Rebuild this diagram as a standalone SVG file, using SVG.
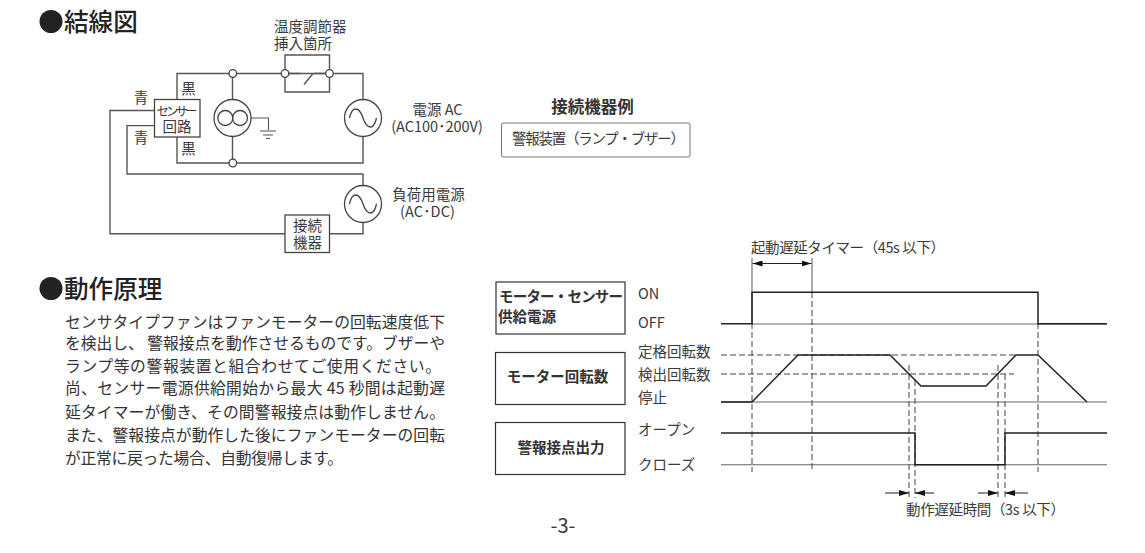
<svg xmlns="http://www.w3.org/2000/svg" width="1145" height="553" viewBox="0 0 1145 553">
<style>
text{font-family:"Noto Sans CJK JP","Noto Sans",sans-serif;fill:#3a3a3a;font-size:14.5px}
.h{font-size:24.600px;font-weight:500;fill:#222}
.b{font-size:15.800px;fill:#333}
.m{text-anchor:middle}
.s{font-weight:700;font-size:14.500px;fill:#333}
.w{fill:none;stroke:#555;stroke-width:1.4}
.n{fill:#fff;stroke:#444;stroke-width:1.3}
.t{fill:none;stroke:#222;stroke-width:1.5}
.g{fill:none;stroke:#666;stroke-width:1.1}
.d{fill:none;stroke:#444;stroke-width:1;stroke-dasharray:6 3}
.a{fill:none;stroke:#222;stroke-width:1;marker-end:url(#ah)}
</style>
<defs><marker id="ah" markerUnits="userSpaceOnUse" markerWidth="11" markerHeight="6" refX="10" refY="3" orient="auto"><path d="M0 0L10 3L0 6Z" fill="#111"/></marker></defs>
<rect width="1145" height="553" fill="#fff"/>
<g id="titles">
<circle cx="51" cy="21.500" r="11.500" fill="#222"/><text class="h" x="64" y="31">結線図</text>
<circle cx="51" cy="288.500" r="11.500" fill="#222"/><text class="h" x="64" y="298">動作原理</text>
</g>
<g id="connectors">
<path class="w" d="M177 99.500V73.500H363V99.500M363 136.500V163H177V137M232.500 73.500V99.500M232.500 136.500V163"/>
<path class="w" d="M154.500 110.500H110V233.700H285M329.500 233.700H363V222.500M363 185.500V174H127V125.600H154.500"/>
<path class="w" d="M285 73.500V55H329.500V73.500M285 73.500V92H329.500V73.500M285 73.500H300M313 73.500L304 84.500M314 73.500H329.500"/>
<path class="w" d="M251 118H268.500V130M260 131H276M263 135H273M266 138.500H270" style="stroke-width:1.1"/>
</g>
<g id="switch-nodes">
<circle class="n" cx="232.800" cy="73.500" r="3.800"/>
<circle class="n" cx="285" cy="73.500" r="3.800"/>
<circle class="n" cx="329.500" cy="73.500" r="3.800"/>
<circle class="n" cx="232.800" cy="163" r="3.800"/>
</g>
<g id="motor"><circle class="n" cx="232.500" cy="118" r="18.500"/><circle class="n" cx="225.300" cy="118" r="7.500" style="fill:none"/><circle class="n" cx="240" cy="118" r="7.500" style="fill:none"/></g>
<g id="ac1"><circle class="n" cx="363" cy="118" r="18.500"/><path class="n" style="fill:none" d="M349.500 118C352 106 359 106 363 118S374 130 376.500 118"/></g>
<g id="ac2"><circle class="n" cx="363" cy="204" r="18.500"/><path class="n" style="fill:none" d="M349.500 204C352 192 359 192 363 204S374 216 376.500 204"/></g>
<g id="sensor"><rect class="n" x="154.500" y="99.500" width="45.500" height="37.500"/>
<text x="156.500" y="115.500" style="font-size:12.500px" textLength="41">センサー</text><text class="m" x="177" y="132">回路</text></g>
<g id="device"><rect class="n" x="285" y="215" width="44.500" height="37.500"/><text class="m" x="307.500" y="231">接続</text><text class="m" x="307.500" y="248">機器</text></g>
<g id="wire-labels">
<text x="274" y="32">温度調節器</text><text x="274" y="49">挿入箇所</text>
<text class="m" x="141" y="103">青</text><text class="m" x="141" y="143">青</text>
<text class="m" x="188.500" y="94">黒</text><text class="m" x="188.500" y="154">黒</text>
<text class="m" x="437.500" y="115">電源 AC</text><text class="m" x="437" y="132">(AC100･200V)</text>
<text class="m" x="428.500" y="200">負荷用電源</text><text x="400" y="217" textLength="55">(AC･DC)</text>
</g>
<g id="example"><text class="m" x="592.500" y="113" style="font-weight:700;font-size:16.500px;fill:#333">接続機器例</text>
<rect x="501.500" y="123" width="188.500" height="34" rx="2" fill="#fff" stroke="#777"/>
<text x="512" y="144" textLength="173">警報装置（ランプ・ブザー）</text></g>
<g id="body">
<text class="b" x="65" y="328" textLength="380">センサタイプファンはファンモーターの回転速度低下</text>
<text class="b" x="65" y="349" textLength="380">を検出し、 警報接点を動作させるものです。ブザーや</text>
<text class="b" x="65" y="372" textLength="376">ランプ等の警報装置と組合わせてご使用ください。</text>
<text class="b" x="65" y="394" textLength="380">尚、センサー電源供給開始から最大 45 秒間は起動遅</text>
<text class="b" x="65" y="418" textLength="380">延タイマーが働き、その間警報接点は動作しません。</text>
<text class="b" x="65" y="441" textLength="380">また、警報接点が動作した後にファンモーターの回転</text>
<text class="b" x="65" y="464" textLength="278">が正常に戻った場合、自動復帰します。</text>
</g>
<g id="timing-boxes">
<rect x="496" y="282" width="129" height="52" fill="#fff" stroke="#333" stroke-width="1.2"/>
<text class="s" x="499" y="302" textLength="124">モーター・センサー</text><text class="s" x="498" y="322">供給電源</text>
<rect x="495.500" y="352.500" width="129.500" height="52" fill="#fff" stroke="#333" stroke-width="1.2"/>
<text class="s m" x="557.500" y="382">モーター回転数</text>
<rect x="495.500" y="422.500" width="129.500" height="52" fill="#fff" stroke="#333" stroke-width="1.2"/>
<text class="s m" x="561" y="453">警報接点出力</text>
</g>
<g id="timing-labels">
<text x="638" y="299">ON</text><text x="638" y="328">OFF</text>
<text x="638" y="357">定格回転数</text><text x="638" y="380">検出回転数</text><text x="638" y="403">停止</text>
<text x="638" y="435">オープン</text><text x="638" y="470">クローズ</text>
<text x="751" y="253" textLength="194">起動遅延タイマー（45s 以下）</text>
<text x="906" y="515" textLength="159">動作遅延時間（3s 以下）</text>
<text class="m" x="563" y="533" style="font-size:20px">-3-</text>
</g>
<g id="timing-lines">
<path class="g" d="M721 402H1107M721 464.700H1107M752 324H1107"/>
<path class="d" d="M721 355H1016M721 374H1014"/>
<path class="d" d="M752 323V472M812 292V472M1038 323V472M909 365V498M915 380V498M998 365V498M1005 374V498"/>
<path class="g" d="M752 258V323M812 258V292"/>
<path class="t" d="M721 323.700H752V292.300H1038V323.700H1107"/>
<path class="t" d="M721 402H752L798 355H890L921 386H986L1016 355H1038L1087 402"/>
<path class="t" d="M721 433H915V464.700H1005V433H1107"/>
<path class="a" d="M782 263.500H752.500"/><path class="a" d="M782 263.500H811.500"/>
<path class="a" d="M885 493H909"/><path class="a" d="M934 493H915"/><path class="a" d="M978 493H998"/><path class="a" d="M1028 493H1005"/>
</g>
</svg>
